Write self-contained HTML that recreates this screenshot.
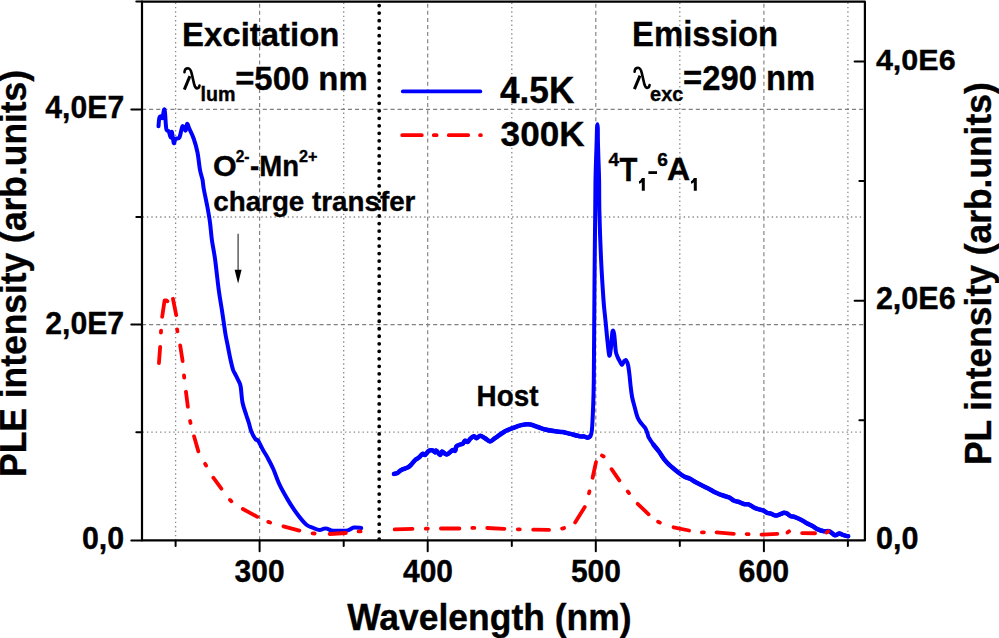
<!DOCTYPE html>
<html><head><meta charset="utf-8"><style>
html,body{margin:0;padding:0;background:#fff;}
svg{display:block;}
text{font-family:"Liberation Sans", sans-serif;font-weight:bold;fill:#000;stroke:#000;stroke-width:0.35px;}
</style></head><body>
<svg width="999" height="638" viewBox="0 0 999 638">
<line x1="259.6" y1="3.7" x2="259.6" y2="539.8" stroke="#808080" stroke-width="1.15" stroke-dasharray="4 3.1"/>
<line x1="427.7" y1="3.7" x2="427.7" y2="539.8" stroke="#808080" stroke-width="1.15" stroke-dasharray="4 3.1"/>
<line x1="595.8" y1="3.7" x2="595.8" y2="539.8" stroke="#808080" stroke-width="1.15" stroke-dasharray="4 3.1"/>
<line x1="763.9" y1="3.7" x2="763.9" y2="539.8" stroke="#808080" stroke-width="1.15" stroke-dasharray="4 3.1"/>
<line x1="175.6" y1="2.5" x2="175.6" y2="539.8" stroke="#8a8a8a" stroke-width="1.3" stroke-dasharray="1.4 3"/>
<line x1="343.7" y1="2.5" x2="343.7" y2="539.8" stroke="#8a8a8a" stroke-width="1.3" stroke-dasharray="1.4 3"/>
<line x1="511.8" y1="2.5" x2="511.8" y2="539.8" stroke="#8a8a8a" stroke-width="1.3" stroke-dasharray="1.4 3"/>
<line x1="679.8" y1="2.5" x2="679.8" y2="539.8" stroke="#8a8a8a" stroke-width="1.3" stroke-dasharray="1.4 3"/>
<line x1="847.9" y1="2.5" x2="847.9" y2="539.8" stroke="#8a8a8a" stroke-width="1.3" stroke-dasharray="1.4 3"/>
<line x1="142.0" y1="324.6" x2="864.7" y2="324.6" stroke="#808080" stroke-width="1.15" stroke-dasharray="4.1 3"/>
<line x1="142.0" y1="109.4" x2="864.7" y2="109.4" stroke="#808080" stroke-width="1.15" stroke-dasharray="4.1 3"/>
<line x1="142.5" y1="432.2" x2="864.7" y2="432.2" stroke="#8a8a8a" stroke-width="1.3" stroke-dasharray="1.4 3"/>
<line x1="142.5" y1="217.0" x2="864.7" y2="217.0" stroke="#8a8a8a" stroke-width="1.3" stroke-dasharray="1.4 3"/>
<line x1="379.2" y1="5.6" x2="379.2" y2="540" stroke="#000" stroke-width="3.8" stroke-linecap="round" stroke-dasharray="0 7.515"/>
<path d="M158.50,126.30 C158.65,124.83 158.93,119.17 159.40,117.50 C159.87,115.83 160.78,116.22 161.30,116.30 C161.82,116.38 162.05,119.09 162.50,118.00 C162.95,116.91 163.58,110.67 164.00,109.75 C164.42,108.83 164.62,109.33 165.00,112.50 C165.38,115.67 165.67,125.67 166.30,128.80 C166.93,131.93 168.08,129.85 168.80,131.30 C169.52,132.75 170.08,137.40 170.60,137.50 C171.12,137.60 171.37,130.97 171.90,131.90 C172.43,132.83 173.18,141.96 173.80,143.10 C174.42,144.24 174.67,139.68 175.60,138.75 C176.53,137.82 178.25,139.57 179.40,137.50 C180.55,135.43 181.47,127.45 182.50,126.30 C183.53,125.15 184.83,131.03 185.60,130.60 C186.37,130.17 186.47,124.06 187.10,123.75 C187.73,123.44 188.29,126.25 189.40,128.75 C190.51,131.25 192.40,134.79 193.75,138.75 C195.10,142.71 196.46,147.29 197.50,152.50 C198.54,157.71 199.17,165.46 200.00,170.00 C200.83,174.54 201.88,176.62 202.50,179.75 C203.12,182.88 202.92,184.12 203.75,188.75 C204.58,193.38 206.46,201.88 207.50,207.50 C208.54,213.12 209.27,217.08 210.00,222.50 C210.73,227.92 211.07,233.96 211.90,240.00 C212.73,246.04 213.86,250.42 215.00,258.75 C216.14,267.08 217.60,281.46 218.75,290.00 C219.90,298.54 221.07,304.58 221.90,310.00 C222.73,315.42 223.13,318.33 223.75,322.50 C224.37,326.67 224.88,330.83 225.60,335.00 C226.32,339.17 227.27,343.33 228.10,347.50 C228.93,351.67 229.77,356.25 230.60,360.00 C231.43,363.75 232.37,367.71 233.10,370.00 C233.83,372.29 234.17,372.08 235.00,373.75 C235.83,375.42 237.17,377.92 238.10,380.00 C239.03,382.08 239.87,382.50 240.60,386.25 C241.33,390.00 241.56,397.71 242.50,402.50 C243.44,407.29 245.21,411.67 246.25,415.00 C247.29,418.33 247.92,419.79 248.75,422.50 C249.58,425.21 250.11,428.43 251.25,431.25 C252.39,434.07 254.46,437.84 255.60,439.40 C256.74,440.96 256.87,438.83 258.10,440.60 C259.33,442.37 261.45,447.20 263.00,450.00 C264.55,452.80 265.67,454.18 267.40,457.40 C269.13,460.62 271.42,464.83 273.40,469.30 C275.38,473.77 276.82,478.98 279.30,484.20 C281.78,489.42 285.32,495.63 288.30,500.60 C291.28,505.57 294.23,510.03 297.20,514.00 C300.17,517.97 303.37,522.05 306.10,524.40 C308.83,526.75 311.37,527.15 313.60,528.10 C315.83,529.05 317.77,530.02 319.50,530.10 C321.23,530.18 322.75,528.85 324.00,528.60 C325.25,528.35 325.77,528.30 327.00,528.60 C328.23,528.90 329.17,530.03 331.40,530.40 C333.63,530.77 337.67,530.80 340.40,530.80 C343.13,530.80 345.53,530.95 347.80,530.40 C350.07,529.85 351.77,527.90 354.00,527.50 C356.23,527.10 360.00,527.92 361.20,528.00" fill="none" stroke="#0000ff" stroke-width="4.0" stroke-linejoin="round" stroke-linecap="round"/>
<path d="M394.00,473.90 C394.58,473.75 396.28,473.67 397.50,473.00 C398.72,472.33 399.62,470.80 401.30,469.90 C402.98,469.00 405.93,468.50 407.60,467.60 C409.27,466.70 410.05,465.75 411.30,464.50 C412.55,463.25 413.85,461.25 415.10,460.10 C416.35,458.95 417.55,458.63 418.80,457.60 C420.05,456.57 421.55,454.35 422.60,453.90 C423.65,453.45 424.05,455.43 425.10,454.90 C426.15,454.37 427.65,451.45 428.90,450.70 C430.15,449.95 431.57,450.12 432.60,450.40 C433.63,450.68 434.47,452.35 435.10,452.40 C435.73,452.45 435.57,450.28 436.40,450.70 C437.23,451.12 439.17,454.78 440.10,454.90 C441.03,455.02 441.15,451.57 442.00,451.40 C442.85,451.23 444.25,453.45 445.20,453.90 C446.15,454.35 446.45,454.73 447.70,454.10 C448.95,453.47 451.45,450.67 452.70,450.10 C453.95,449.53 454.58,451.33 455.20,450.70 C455.82,450.07 455.57,447.33 456.40,446.30 C457.23,445.27 459.15,444.92 460.20,444.50 C461.25,444.08 461.87,444.43 462.70,443.80 C463.53,443.17 464.37,441.00 465.20,440.70 C466.03,440.40 466.87,442.32 467.70,442.00 C468.53,441.68 469.15,439.75 470.20,438.80 C471.25,437.85 472.95,436.40 474.00,436.30 C475.05,436.20 475.47,438.30 476.50,438.20 C477.53,438.10 478.78,435.70 480.20,435.70 C481.62,435.70 483.37,437.25 485.00,438.20 C486.63,439.15 488.33,441.40 490.00,441.40 C491.67,441.40 492.48,439.88 495.00,438.20 C497.52,436.52 502.17,432.97 505.10,431.30 C508.03,429.63 509.88,429.23 512.60,428.20 C515.32,427.17 518.47,425.72 521.40,425.10 C524.33,424.48 527.48,424.18 530.20,424.50 C532.92,424.82 535.20,426.17 537.70,427.00 C540.20,427.83 542.28,428.78 545.20,429.50 C548.12,430.22 552.27,430.88 555.20,431.30 C558.13,431.72 560.28,431.57 562.80,432.00 C565.32,432.43 567.38,433.17 570.30,433.90 C573.22,434.63 578.05,435.98 580.30,436.40 C582.55,436.82 582.60,436.18 583.80,436.40 C585.00,436.62 586.47,437.70 587.50,437.70 C588.53,437.70 589.27,437.65 590.00,436.40 C590.73,435.15 591.37,435.43 591.90,430.20 C592.43,424.97 592.88,413.37 593.20,405.00 C593.52,396.63 593.63,393.50 593.80,380.00 C593.97,366.50 594.05,344.00 594.20,324.00 C594.35,304.00 594.53,278.67 594.70,260.00 C594.87,241.33 595.07,225.33 595.20,212.00 C595.33,198.67 595.33,189.50 595.50,180.00 C595.67,170.50 596.00,161.67 596.20,155.00 C596.40,148.33 596.57,144.50 596.70,140.00 C596.83,135.50 596.88,130.63 597.00,128.00 C597.12,125.37 597.27,124.20 597.40,124.20 C597.53,124.20 597.72,125.37 597.80,128.00 C597.88,130.63 597.82,135.50 597.90,140.00 C597.98,144.50 598.10,148.33 598.30,155.00 C598.50,161.67 598.92,170.50 599.10,180.00 C599.28,189.50 599.07,198.67 599.40,212.00 C599.73,225.33 600.42,245.33 601.10,260.00 C601.78,274.67 602.87,290.83 603.50,300.00 C604.13,309.17 604.48,310.67 604.90,315.00 C605.32,319.33 605.55,321.43 606.00,326.00 C606.45,330.57 607.05,337.47 607.60,342.40 C608.15,347.33 608.75,354.68 609.30,355.60 C609.85,356.52 610.37,351.93 610.90,347.90 C611.43,343.87 611.95,333.60 612.50,331.40 C613.05,329.20 613.65,331.40 614.20,334.70 C614.75,338.00 615.25,347.53 615.80,351.20 C616.35,354.87 616.85,355.05 617.50,356.70 C618.15,358.35 618.97,359.73 619.70,361.10 C620.43,362.47 621.17,364.90 621.90,364.90 C622.63,364.90 623.37,361.83 624.10,361.10 C624.83,360.37 625.62,359.73 626.30,360.50 C626.98,361.27 627.67,363.27 628.20,365.70 C628.73,368.13 629.10,371.72 629.50,375.10 C629.90,378.48 630.17,382.35 630.60,386.00 C631.03,389.65 631.45,393.60 632.10,397.00 C632.75,400.40 633.58,403.00 634.50,406.40 C635.42,409.80 636.43,414.52 637.60,417.40 C638.77,420.28 640.18,421.87 641.50,423.70 C642.82,425.53 644.45,426.58 645.50,428.40 C646.55,430.22 647.26,433.08 647.80,434.60 C648.34,436.12 647.76,435.77 648.75,437.50 C649.74,439.23 652.08,442.71 653.75,445.00 C655.42,447.29 657.08,448.96 658.75,451.25 C660.42,453.54 662.08,456.56 663.75,458.75 C665.42,460.94 667.08,462.73 668.75,464.40 C670.42,466.07 671.88,467.19 673.75,468.75 C675.62,470.31 678.12,472.39 680.00,473.75 C681.88,475.11 683.33,476.07 685.00,476.90 C686.67,477.73 688.12,477.82 690.00,478.75 C691.88,479.68 693.75,481.14 696.25,482.50 C698.75,483.86 702.71,485.75 705.00,486.90 C707.29,488.05 708.33,488.50 710.00,489.40 C711.67,490.30 713.37,491.47 715.00,492.30 C716.63,493.13 718.20,493.78 719.80,494.40 C721.40,495.02 723.00,495.47 724.60,496.00 C726.20,496.53 727.80,496.80 729.40,497.60 C731.00,498.40 732.60,500.07 734.20,500.80 C735.80,501.53 737.40,501.47 739.00,502.00 C740.60,502.53 742.20,503.60 743.80,504.00 C745.40,504.40 747.00,503.87 748.60,504.40 C750.20,504.93 751.80,506.40 753.40,507.20 C755.00,508.00 756.60,508.67 758.20,509.20 C759.80,509.73 761.53,509.80 763.00,510.40 C764.47,511.00 765.67,512.27 767.00,512.80 C768.33,513.33 769.53,513.13 771.00,513.60 C772.47,514.07 774.18,515.53 775.80,515.60 C777.42,515.67 779.35,514.47 780.70,514.00 C782.05,513.53 782.83,512.87 783.90,512.80 C784.97,512.73 786.03,513.07 787.10,513.60 C788.17,514.13 788.98,515.40 790.30,516.00 C791.62,516.60 793.07,516.48 795.00,517.20 C796.93,517.92 800.02,519.33 801.90,520.30 C803.78,521.27 804.47,522.00 806.30,523.00 C808.13,524.00 811.07,525.28 812.90,526.30 C814.73,527.32 815.47,528.27 817.30,529.10 C819.13,529.93 821.88,530.93 823.90,531.30 C825.92,531.67 827.57,530.65 829.40,531.30 C831.23,531.95 833.25,534.83 834.90,535.20 C836.55,535.57 837.83,533.50 839.30,533.50 C840.77,533.50 842.23,534.73 843.70,535.20 C845.17,535.67 847.37,536.12 848.10,536.30" fill="none" stroke="#0000ff" stroke-width="4.0" stroke-linejoin="round" stroke-linecap="round"/>
<path d="M394.00,473.90 C394.58,473.75 396.28,473.67 397.50,473.00 C398.72,472.33 399.62,470.80 401.30,469.90 C402.98,469.00 405.93,468.50 407.60,467.60 C409.27,466.70 410.05,465.75 411.30,464.50 C412.55,463.25 413.85,461.25 415.10,460.10 C416.35,458.95 417.55,458.63 418.80,457.60 C420.05,456.57 421.55,454.35 422.60,453.90 C423.65,453.45 424.05,455.43 425.10,454.90 C426.15,454.37 427.65,451.45 428.90,450.70 C430.15,449.95 431.57,450.12 432.60,450.40 C433.63,450.68 434.47,452.35 435.10,452.40 C435.73,452.45 435.57,450.28 436.40,450.70 C437.23,451.12 439.17,454.78 440.10,454.90 C441.03,455.02 441.15,451.57 442.00,451.40 C442.85,451.23 444.25,453.45 445.20,453.90 C446.15,454.35 446.45,454.73 447.70,454.10 C448.95,453.47 451.45,450.67 452.70,450.10 C453.95,449.53 454.58,451.33 455.20,450.70 C455.82,450.07 455.57,447.33 456.40,446.30 C457.23,445.27 459.15,444.92 460.20,444.50 C461.25,444.08 461.87,444.43 462.70,443.80 C463.53,443.17 464.37,441.00 465.20,440.70 C466.03,440.40 466.87,442.32 467.70,442.00 C468.53,441.68 469.15,439.75 470.20,438.80 C471.25,437.85 472.95,436.40 474.00,436.30 C475.05,436.20 475.47,438.30 476.50,438.20 C477.53,438.10 478.78,435.70 480.20,435.70 C481.62,435.70 483.37,437.25 485.00,438.20 C486.63,439.15 488.33,441.40 490.00,441.40 C491.67,441.40 492.48,439.88 495.00,438.20 C497.52,436.52 502.17,432.97 505.10,431.30 C508.03,429.63 509.88,429.23 512.60,428.20 C515.32,427.17 518.47,425.72 521.40,425.10 C524.33,424.48 527.48,424.18 530.20,424.50 C532.92,424.82 535.20,426.17 537.70,427.00 C540.20,427.83 542.28,428.78 545.20,429.50 C548.12,430.22 552.27,430.88 555.20,431.30 C558.13,431.72 560.28,431.57 562.80,432.00 C565.32,432.43 567.38,433.17 570.30,433.90 C573.22,434.63 578.05,435.98 580.30,436.40 C582.55,436.82 582.60,436.18 583.80,436.40 C585.00,436.62 586.47,437.70 587.50,437.70 C588.53,437.70 589.58,436.62 590.00,436.40" fill="none" stroke="#0000ff" stroke-width="4.5" stroke-linejoin="round" stroke-linecap="round"/>
<path d="M653.75,445.00 C654.58,446.04 657.08,448.96 658.75,451.25 C660.42,453.54 662.08,456.56 663.75,458.75 C665.42,460.94 667.08,462.73 668.75,464.40 C670.42,466.07 671.88,467.19 673.75,468.75 C675.62,470.31 678.12,472.39 680.00,473.75 C681.88,475.11 683.33,476.07 685.00,476.90 C686.67,477.73 688.12,477.82 690.00,478.75 C691.88,479.68 693.75,481.14 696.25,482.50 C698.75,483.86 702.71,485.75 705.00,486.90 C707.29,488.05 708.33,488.50 710.00,489.40 C711.67,490.30 713.37,491.47 715.00,492.30 C716.63,493.13 718.20,493.78 719.80,494.40 C721.40,495.02 723.00,495.47 724.60,496.00 C726.20,496.53 727.80,496.80 729.40,497.60 C731.00,498.40 732.60,500.07 734.20,500.80 C735.80,501.53 737.40,501.47 739.00,502.00 C740.60,502.53 742.20,503.60 743.80,504.00 C745.40,504.40 747.00,503.87 748.60,504.40 C750.20,504.93 751.80,506.40 753.40,507.20 C755.00,508.00 756.60,508.67 758.20,509.20 C759.80,509.73 761.53,509.80 763.00,510.40 C764.47,511.00 765.67,512.27 767.00,512.80 C768.33,513.33 769.53,513.13 771.00,513.60 C772.47,514.07 774.18,515.53 775.80,515.60 C777.42,515.67 779.35,514.47 780.70,514.00 C782.05,513.53 782.83,512.87 783.90,512.80 C784.97,512.73 786.03,513.07 787.10,513.60 C788.17,514.13 788.98,515.40 790.30,516.00 C791.62,516.60 793.07,516.48 795.00,517.20 C796.93,517.92 800.02,519.33 801.90,520.30 C803.78,521.27 804.47,522.00 806.30,523.00 C808.13,524.00 811.07,525.28 812.90,526.30 C814.73,527.32 815.47,528.27 817.30,529.10 C819.13,529.93 821.88,530.93 823.90,531.30 C825.92,531.67 827.57,530.65 829.40,531.30 C831.23,531.95 833.25,534.83 834.90,535.20 C836.55,535.57 837.83,533.50 839.30,533.50 C840.77,533.50 842.23,534.73 843.70,535.20 C845.17,535.67 847.37,536.12 848.10,536.30" fill="none" stroke="#0000ff" stroke-width="4.5" stroke-linejoin="round" stroke-linecap="round"/>
<path d="M158.94,363.11 L160.16,346.79 M162.18,316.72 L164.60,300.30 L166.50,300.50 L167.41,301.22 M172.97,298.76 L176.23,315.14 M180.19,345.48 L182.61,361.02 M185.94,391.78 L187.86,406.72 M194.03,436.33 L198.37,451.37 M213.33,477.73 L221.37,488.67 M242.87,509.00 L257.33,516.80 M283.44,526.39 L299.36,530.61 M329.60,533.99 L345.90,533.01 M394.70,529.35 L412.50,528.85 M440.90,528.50 L459.40,528.50 M487.20,528.00 L504.40,528.90 M533.20,529.63 L549.00,529.87 M575.11,522.39 L584.79,507.01 M592.60,477.74 L596.00,462.06 M611.58,469.17 L619.32,480.43 M637.67,503.81 L648.63,514.29 M673.56,527.29 L689.04,530.51 M716.59,532.45 L733.81,533.85 M761.50,534.60 L777.30,533.80 M802.10,533.03 L815.10,533.27 M160.94,332.60 L161.06,330.60 M177.18,329.41 L177.42,331.39 M184.00,375.51 L184.20,377.49 M190.10,421.02 L190.50,422.98 M205.10,463.83 L206.10,465.57 M229.98,499.91 L231.42,501.29 M268.26,521.86 L270.14,522.54 M312.61,533.29 L314.59,533.51 M358.60,531.40 L360.60,531.40 M425.80,528.61 L427.80,528.59 M472.30,527.92 L474.30,527.88 M517.80,529.28 L519.80,529.32 M562.13,528.55 L564.07,528.05 M588.96,493.37 L589.44,491.43 M601.91,455.54 L603.69,456.46 M627.79,491.51 L629.01,493.09 M658.11,521.74 L659.89,522.66 M701.90,532.34 L703.90,532.46 M746.60,534.07 L748.60,534.13 M787.50,532.50 L789.10,531.30 M826.70,532.50 L828.30,531.30" fill="none" stroke="#ff0000" stroke-width="3.8" stroke-linecap="round" stroke-linejoin="round"/>
<path d="M142.0,540.4 L142.0,1.6 L864.9,1.6 L864.9,540.4 Z" fill="none" stroke="#000" stroke-width="2.2" stroke-linejoin="round"/>
<line x1="131.3" y1="540.4" x2="142.0" y2="540.4" stroke="#000" stroke-width="2" stroke-linecap="round"/>
<line x1="131.3" y1="324.6" x2="142.0" y2="324.6" stroke="#000" stroke-width="2" stroke-linecap="round"/>
<line x1="131.3" y1="109.4" x2="142.0" y2="109.4" stroke="#000" stroke-width="2" stroke-linecap="round"/>
<line x1="136.3" y1="432.2" x2="142.0" y2="432.2" stroke="#000" stroke-width="2" stroke-linecap="round"/>
<line x1="136.3" y1="217.0" x2="142.0" y2="217.0" stroke="#000" stroke-width="2" stroke-linecap="round"/>
<line x1="136.3" y1="1.6" x2="142.0" y2="1.6" stroke="#000" stroke-width="2" stroke-linecap="round"/>
<line x1="854.6" y1="300.7" x2="864.9" y2="300.7" stroke="#000" stroke-width="2" stroke-linecap="round"/>
<line x1="854.6" y1="61.6" x2="864.9" y2="61.6" stroke="#000" stroke-width="2" stroke-linecap="round"/>
<line x1="859.4" y1="420.2" x2="864.9" y2="420.2" stroke="#000" stroke-width="2" stroke-linecap="round"/>
<line x1="859.4" y1="181.1" x2="864.9" y2="181.1" stroke="#000" stroke-width="2" stroke-linecap="round"/>
<line x1="259.6" y1="540.4" x2="259.6" y2="551.2" stroke="#000" stroke-width="2" stroke-linecap="round"/>
<line x1="427.7" y1="540.4" x2="427.7" y2="551.2" stroke="#000" stroke-width="2" stroke-linecap="round"/>
<line x1="595.8" y1="540.4" x2="595.8" y2="551.2" stroke="#000" stroke-width="2" stroke-linecap="round"/>
<line x1="763.9" y1="540.4" x2="763.9" y2="551.2" stroke="#000" stroke-width="2" stroke-linecap="round"/>
<line x1="175.6" y1="540.4" x2="175.6" y2="546.0" stroke="#000" stroke-width="2" stroke-linecap="round"/>
<line x1="343.7" y1="540.4" x2="343.7" y2="546.0" stroke="#000" stroke-width="2" stroke-linecap="round"/>
<line x1="511.8" y1="540.4" x2="511.8" y2="546.0" stroke="#000" stroke-width="2" stroke-linecap="round"/>
<line x1="679.8" y1="540.4" x2="679.8" y2="546.0" stroke="#000" stroke-width="2" stroke-linecap="round"/>
<line x1="847.9" y1="540.4" x2="847.9" y2="546.0" stroke="#000" stroke-width="2" stroke-linecap="round"/>
<line x1="238.1" y1="233.8" x2="238.1" y2="272" stroke="#444" stroke-width="1.3"/>
<path d="M234.6,269.8 L241.6,269.8 L238.1,283.6 Z" fill="#000"/>
<line x1="402.8" y1="91.4" x2="480.3" y2="91.4" stroke="#0000ff" stroke-width="3.8" stroke-linecap="round"/>
<path d="M402.2,135.2 L421.8,135.2 M433.8,135.2 L436.6,135.2 M448.8,135.2 L468.2,135.2 M480.1,135.2 L480.9,135.2" fill="none" stroke="#ff0000" stroke-width="3.8" stroke-linecap="round"/>
<text transform="translate(45.30,118.40) scale(0.9537,1)" font-size="31.66">4,0E7</text>
<text transform="translate(45.19,333.80) scale(0.9593,1)" font-size="31.52">2,0E7</text>
<text transform="translate(81.98,549.30) scale(0.9733,1)" font-size="31.21">0,0</text>
<text transform="translate(875.89,69.70) scale(1.0105,1)" font-size="30.23">4,0E6</text>
<text transform="translate(875.88,309.30) scale(0.9872,1)" font-size="30.95">2,0E6</text>
<text transform="translate(875.98,549.30) scale(0.9807,1)" font-size="31.21">0,0</text>
<text transform="translate(234.60,581.70) scale(0.9568,1)" font-size="31.36">300</text>
<text transform="translate(738.59,581.70) scale(0.9668,1)" font-size="31.36">600</text>
<text transform="translate(347.20,630.30) scale(0.9570,1)" font-size="37.06">Wavelength (nm)</text>
<text transform="translate(182.10,46.10) scale(0.9680,1)" font-size="34.01">Excitation</text>
<text transform="translate(632.10,46.10) scale(0.9425,1)" font-size="34.88">Emission</text>
<text transform="translate(235.18,89.80) scale(0.9707,1)" font-size="33.87">=500 nm</text>
<text transform="translate(683.09,89.80) scale(0.9532,1)" font-size="34.38">=290 nm</text>
<text transform="translate(200.62,101.00) scale(1.0199,1)" font-size="19.31">lum</text>
<text transform="translate(650.11,101.10) scale(0.9901,1)" font-size="20.07">exc</text>
<text transform="translate(499.90,103.20) scale(0.9660,1)" font-size="36.48">4.5K</text>
<text transform="translate(500.60,146.40) scale(0.9807,1)" font-size="35.82">300K</text>
<text transform="translate(213.08,176.00) scale(1.0458,1)" font-size="29.10">O</text>
<text transform="translate(235.74,161.70) scale(0.9918,1)" font-size="15.62">2-</text>
<text transform="translate(250.10,176.30) scale(0.9290,1)" font-size="29.65">-Mn</text>
<text transform="translate(299.01,161.70) scale(1.0354,1)" font-size="15.62">2+</text>
<text transform="translate(213.29,210.90) scale(1.0321,1)" font-size="26.90">charge transfer</text>
<text transform="translate(608.52,165.50) scale(1.0324,1)" font-size="18.46">4</text>
<text transform="translate(619.61,180.60) scale(0.8887,1)" font-size="32.99">T</text>
<text transform="translate(657.13,165.90) scale(1.0127,1)" font-size="18.93">6</text>
<text transform="translate(666.94,180.30) scale(0.9955,1)" font-size="32.27">A</text>
<text transform="translate(476.55,406.00) scale(0.9486,1)" font-size="29.36">Host</text>
<text transform="translate(402.95,581.7) scale(0.9568,1)" font-size="31.36">400</text>
<text transform="translate(570.90,581.7) scale(0.9568,1)" font-size="31.36">500</text>
<text transform="translate(25.90,476.88) rotate(-90) scale(0.9683,1)" font-size="36.56">PLE intensity (arb.units)</text>
<text transform="translate(991.00,465.08) rotate(-90) scale(0.9589,1)" font-size="36.92">PL intensity (arb.units)</text>
<g transform="translate(0,0)"><path d="M184.5,72.3 C184.6,69.5 186.3,68.3 188.0,68.3 C190.2,68.4 191.0,70.6 191.7,73.6 L194.2,84.4 C194.9,87.2 196.0,88.4 197.3,88.4 C198.6,88.4 199.2,87.2 199.5,85.6" fill="none" stroke="#000" stroke-width="2.6" stroke-linecap="round"/><path d="M189.9,76.2 L184.3,89.6" fill="none" stroke="#000" stroke-width="3.0"/></g>
<g transform="translate(450.1,-0.5)"><path d="M184.5,72.3 C184.6,69.5 186.3,68.3 188.0,68.3 C190.2,68.4 191.0,70.6 191.7,73.6 L194.2,84.4 C194.9,87.2 196.0,88.4 197.3,88.4 C198.6,88.4 199.2,87.2 199.5,85.6" fill="none" stroke="#000" stroke-width="2.6" stroke-linecap="round"/><path d="M189.9,76.2 L184.3,89.6" fill="none" stroke="#000" stroke-width="3.0"/></g>
<path transform="translate(0,0)" d="M641.8,178 L644.8,178 L644.8,190.8 L641.8,190.8 L641.8,182.2 C641,182.9 640,183.4 639.1,183.7 L638.9,181.2 C640.2,180.6 641.2,179.6 641.8,178 Z" fill="#000"/>
<path transform="translate(52,0)" d="M641.8,178 L644.8,178 L644.8,190.8 L641.8,190.8 L641.8,182.2 C641,182.9 640,183.4 639.1,183.7 L638.9,181.2 C640.2,180.6 641.2,179.6 641.8,178 Z" fill="#000"/>
<rect x="648.4" y="171.2" width="8.6" height="2.8" fill="#000"/>
</svg>
</body></html>
